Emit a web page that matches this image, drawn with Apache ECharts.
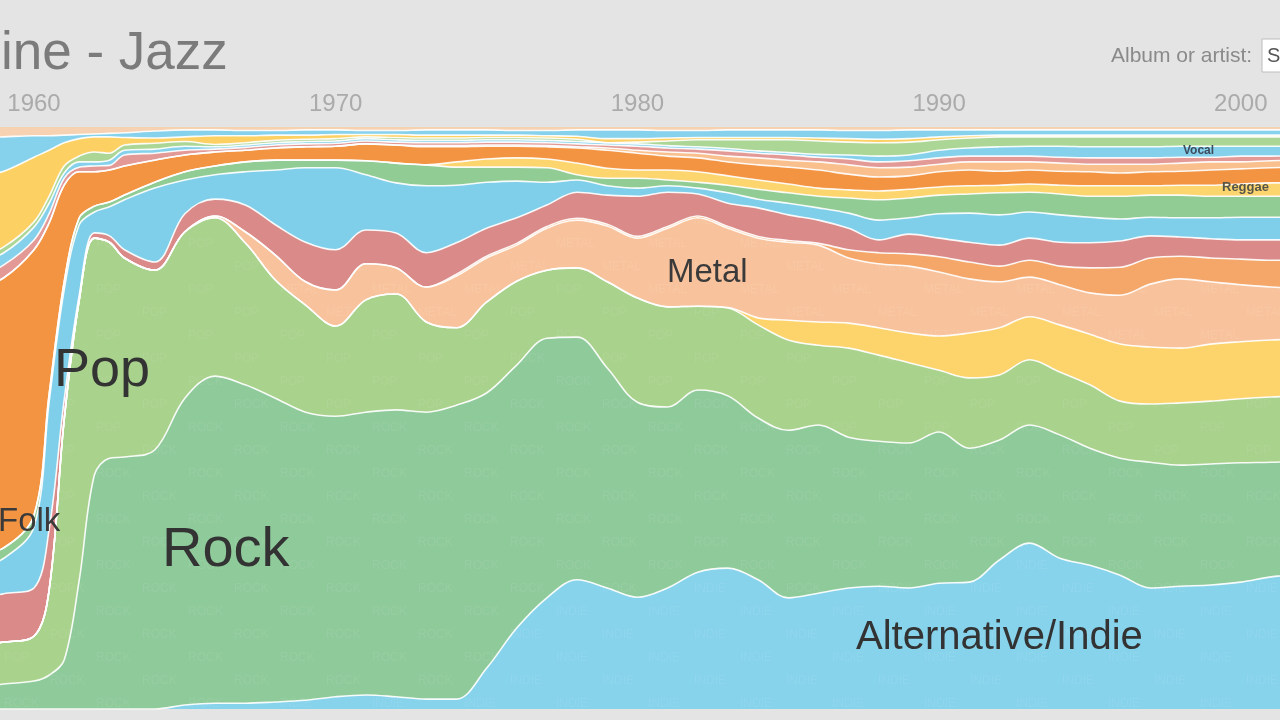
<!DOCTYPE html>
<html>
<head>
<meta charset="utf-8">
<title>Music Timeline - Jazz</title>
<script src="https://cdn.jsdelivr.net/npm/echarts@6/dist/echarts.min.js"></script>
<style>
  html, body { margin: 0; padding: 0; background: #e4e4e4; }
  #chart { width: 1280px; height: 720px; }
</style>
</head>
<body>
<div id="chart"></div>
<script>
// sample years (half years where the early 60s change quickly)
var years = [1958, 1959, 1960, 1960.5, 1961, 1961.5, 1962, 1962.5, 1963, 1964,
  1965, 1966, 1967, 1968, 1969, 1970, 1971, 1972, 1973, 1974,
  1975, 1976, 1977, 1978, 1979, 1980, 1981, 1982, 1983, 1984,
  1985, 1986, 1987, 1988, 1989, 1990, 1991, 1992, 1993, 1994,
  1995, 1996, 1997, 1998, 1999, 2000, 2001, 2002];
var yearTicks = [1960, 1970, 1980, 1990, 2000];

// top edge of each band, in % of all listening (bands stacked bottom -> top)
var altIndie = [0,0,0,0,0,0,0,0,0,0, 0.7,1.0,1.0,1.2,1.5,2.1,2.4,2.1,1.7,1.7,
  7.0,13.9,19.1,22.2,20.8,19.2,20.8,23.5,24.2,22.2, 19.1,19.9,20.8,21.1,20.8,21.6,21.8,25.6,28.5,25.9,
  24.7,23.0,20.8,21.1,21.3,21.8,22.7,23.2];
var rock = [3.5,4.3,4.8,5.8,8.4,22.2,40.2,43.1,43.3,44.5, 53.4,57.2,55.7,53.4,51.0,50.3,51.0,51.4,51.0,52.2,
  54.3,59.1,63.7,63.9,58.6,52.7,51.9,54.8,53.8,50.0, 47.9,48.8,46.7,46.0,45.7,47.6,44.8,46.2,48.8,47.1,
  44.8,43.1,42.4,41.9,42.1,42.3,42.4,42.6];
var pop = [11.0,11.5,12.5,20.4,49.7,70.3,80.9,80.2,77.5,75.4, 82.0,84.4,80.1,73.7,69.4,65.8,70.3,71.3,66.5,65.5,
  69.9,73.5,75.4,75.8,73.4,70.6,69.1,69.2,68.9,66.0, 63.4,62.5,62.0,60.8,59.5,58.2,56.9,57.4,60.0,57.9,
  55.7,52.9,52.4,52.6,52.9,53.3,53.6,53.8];
var hipHop = [11.0,11.5,12.5,20.4,49.7,70.3,80.9,80.2,77.5,75.4, 82.0,84.4,80.1,73.7,69.4,65.8,70.3,71.3,66.5,65.5,
  69.9,73.5,75.4,75.8,73.4,70.6,69.1,69.2,69.0,67.2, 66.8,66.5,66.3,65.5,64.6,64.1,64.6,65.5,67.4,66.0,
  64.4,62.7,62.2,62.0,62.7,63.1,63.4,63.6];
var metal = [11.0,11.5,12.5,20.4,49.7,70.3,80.9,80.2,77.5,75.4, 82.0,84.7,82.0,78.0,73.4,72.0,76.5,75.8,72.5,74.4,
  77.5,79.7,82.6,84.0,83.0,80.9,82.6,84.4,82.6,80.9, 80.2,79.7,77.5,76.5,76.1,75.1,73.9,73.4,74.2,72.9,
  71.5,71.1,73.0,73.9,73.4,72.9,72.5,72.3];
var electronica = [11.0,11.5,12.5,20.4,49.7,70.3,80.9,80.2,77.5,75.4, 82.0,84.7,82.0,78.0,73.4,72.0,76.5,75.8,72.5,74.7,
  77.8,80.0,82.9,84.3,83.3,81.2,82.9,84.7,82.9,81.2, 80.5,80.0,78.9,78.4,78.2,77.7,76.8,76.1,77.1,76.1,
  75.8,75.9,77.5,77.8,77.5,77.3,77.1,77.1];
var rnb = [18.7,19.8,20.8,30.8,53.1,71.1,81.8,81.3,78.9,76.8, 85.1,87.6,86.6,83.2,80.2,78.9,82.3,81.8,78.4,80.1,
  82.6,84.4,86.6,88.8,88.3,88.1,88.8,88.5,86.9,86.1, 84.9,84.0,82.6,80.6,81.6,80.9,80.2,79.7,80.9,80.2,
  80.1,80.4,81.3,81.1,80.8,80.6,80.6,80.6];
var folk = [23.9,25.9,31.3,52.7,72.0,83.2,85.4,86.3,87.5,89.5, 90.9,91.8,92.3,92.6,93.0,93.0,91.8,90.4,89.9,90.0,
  90.5,90.7,90.5,90.9,89.9,89.5,89.9,89.5,88.7,87.6, 86.9,86.1,85.2,84.0,84.4,85.1,85.2,84.9,85.4,84.9,
  84.5,84.2,84.5,84.4,84.4,84.5,84.5,84.5];
var country = [26.5,27.7,33.3,54.0,73.4,84.4,86.4,87.1,88.3,90.5, 92.3,93.3,94.0,94.3,94.3,94.3,94.2,93.8,93.5,93.1,
  93.1,93.1,93.0,91.8,91.2,91.2,90.9,90.5,90.0,89.3, 88.7,88.1,87.8,87.5,87.8,88.3,88.5,88.7,88.8,88.5,
  88.1,88.1,88.3,88.3,88.1,88.1,88.1,88.1];
var reggae = [26.5,27.7,33.3,54.0,73.4,84.4,86.4,87.1,88.3,90.5, 92.3,93.3,94.0,94.3,94.3,94.3,94.2,93.8,93.5,94.0,
  94.5,94.7,94.5,93.8,92.9,92.6,92.6,92.3,91.6,90.9, 90.2,89.5,89.2,89.0,89.3,89.7,89.9,90.0,90.2,90.0,
  89.9,89.9,89.9,90.0,90.0,90.2,90.4,90.4];
var jazz = [72.0,74.1,78.9,83.5,90.0,92.3,92.3,92.6,93.3,94.3, 95.2,95.7,96.0,96.4,96.6,96.7,97.1,96.9,96.6,96.6,
  96.7,96.7,96.6,96.4,96.0,95.5,95.0,94.7,94.0,93.5, 93.1,92.6,91.9,91.4,91.6,92.3,92.6,92.4,92.6,92.4,
  92.3,92.1,92.3,92.4,92.6,92.8,93.0,93.1];
var latin = [72.0,74.1,78.9,83.5,90.0,92.3,92.3,92.6,93.3,94.3, 95.2,95.7,96.0,96.4,96.6,96.7,97.1,96.9,96.8,96.8,
  96.9,96.9,96.8,96.6,96.4,96.0,95.7,95.5,95.0,94.7, 94.3,94.0,93.5,93.0,93.1,93.6,94.0,94.0,94.0,93.8,
  93.6,93.6,93.6,93.8,94.0,94.0,94.2,94.3];
var blues = [73.7,76.3,80.6,85.1,91.2,93.1,93.3,93.4,95.2,95.5, 96.0,96.2,96.5,96.9,97.1,97.2,97.6,97.4,97.3,97.3,
  97.4,97.4,97.3,97.1,96.9,96.7,96.4,96.2,95.9,95.5, 95.2,94.8,94.5,94.0,94.2,94.7,95.0,95.0,95.0,94.8,
  94.7,94.7,94.7,94.8,94.8,95.0,95.0,95.2];
var vocal = [76.3,78.4,82.8,86.9,92.1,94.0,94.0,94.3,96.0,96.2, 96.7,96.6,96.9,97.3,97.5,97.6,98.0,97.8,97.7,97.7,
  97.8,97.8,97.7,97.5,97.3,97.1,96.8,96.6,96.3,95.9, 95.6,95.3,95.2,95.0,95.2,96.0,96.4,96.6,96.7,96.7,
  96.6,96.6,96.6,96.7,96.7,96.7,96.7,96.7];
var world = [77.1,79.4,83.7,88.1,93.3,95.0,95.7,95.5,96.9,97.2, 97.5,97.0,97.3,97.7,97.9,98.0,98.3,98.2,98.1,98.1,
  98.2,98.2,98.1,97.9,97.3,97.4,97.6,97.8,97.8,97.8, 97.8,97.6,97.4,97.3,97.4,97.8,98.1,98.3,98.3,98.3,
  98.3,98.3,98.3,98.3,98.3,98.3,98.3,98.3];
var easyListening = [91.2,92.4,94.8,96.0,97.3,98.0,98.3,98.3,98.2,98.1, 98.3,98.5,98.5,98.6,98.6,98.7,98.7,98.7,98.6,98.6,
  98.6,98.6,98.5,98.4,98.0,98.0,98.1,98.2,98.2,98.2, 98.2,98.1,98.0,97.9,98.0,98.3,98.5,98.6,98.6,98.6,
  98.6,98.6,98.6,98.6,98.6,98.6,98.6,98.6];
var classical = [98.1,98.3,98.5,98.5,98.6,98.7,98.8,98.9,99.0,99.3, 99.5,99.5,99.4,99.4,99.5,99.5,99.4,99.4,99.5,99.5,
  99.5,99.4,99.4,99.5,99.5,99.5,99.4,99.4,99.5,99.5, 99.5,99.5,99.4,99.4,99.5,99.5,99.5,99.5,99.5,99.5,
  99.5,99.5,99.5,99.5,99.5,99.5,99.5,99.5];

// faint repeated genre word, like the original's band texture
function tile(base, word) {
    var c = document.createElement('canvas');
    c.width = 92; c.height = 46;
    var g = c.getContext('2d');
    g.fillStyle = base;
    g.fillRect(0, 0, 92, 46);
    g.fillStyle = 'rgba(255,255,255,0.07)';
    g.font = '12px "Liberation Sans", Arial, sans-serif';
    g.fillText(word, 4, 17);
    g.fillText(word, 50, 40);
    return { image: c, repeat: 'repeat' };
}

// drawn top band first, so each lower band paints over the one above
var bands = [
    ['Classical', classical, '#86d1ec'],
    ['Easy Listening', easyListening, '#fdd063'],
    ['World', world, '#abd696'],
    ['Vocal', vocal, '#85d1ec'],
    ['Blues', blues, '#e39a96'],
    ['Latin', latin, '#f9bf8c'],
    ['Jazz', jazz, '#f39443'],
    ['Reggae', reggae, '#fdd56e'],
    ['Country', country, '#92cc95'],
    ['Folk', folk, '#80cfea'],
    ['R&B', rnb, '#d98a89'],
    ['Electronica/Dance', electronica, '#f5a669'],
    ['Metal', metal, tile('#f8c39c', 'METAL')],
    ['Hip Hop', hipHop, '#fdd46c'],
    ['Pop', pop, tile('#a9d28c', 'POP')],
    ['Rock', rock, tile('#8fca9b', 'ROCK')],
    ['Alternative/Indie', altIndie, tile('#87d3ec', 'INDIE')]
];

var series = bands.map(function (b) {
    return {
        name: b[0],
        type: 'line',
        smooth: 0.35,
        symbol: 'none',
        clip: true,
        silent: true,
        emphasis: { disabled: true },
        lineStyle: { color: 'rgba(255,255,255,0.92)', width: 1.6 },
        areaStyle: { color: b[2], opacity: 1 },
        data: years.map(function (y, i) { return [y, b[1][i]]; })
    };
});

var myChart = echarts.init(document.getElementById('chart'), null, { width: 1280, height: 720 });

var labelFont = '"Liberation Sans", Arial, Helvetica, sans-serif';
function label(text, left, top, font, fill) {
    return { type: 'text', left: left, top: top, z: 100, silent: true, style: { text: text, font: font, fill: fill } };
}
var option = {
    backgroundColor: '#e4e4e4',
    animation: false,
    grid: {
        left: 0, right: 0, top: 127, bottom: 11,
        show: true, backgroundColor: '#f7d2b2', borderWidth: 0
    },
    xAxis: {
        type: 'value',
        position: 'top',
        min: 1958.873,
        max: 2001.3,
        splitLine: { show: false },
        axisLine: { show: false },
        axisTick: { show: false },
        axisLabel: {
            customValues: yearTicks,
            formatter: function (v) { return String(v); },
            color: '#ababab',
            fontSize: 24,
            fontFamily: labelFont,
            margin: 11
        }
    },
    yAxis: { type: 'value', min: 0, max: 100, show: false },
    series: series,
    graphic: [
        label('ine - Jazz', 1, 28, '53px ' + labelFont, '#7b7b7b'),
        label('Album or artist:', 1111, 46, '21px ' + labelFont, '#8a8a8a'),
        { type: 'rect', z: 100, silent: true, shape: { x: 1262, y: 39, width: 30, height: 33 }, style: { fill: '#ffffff', stroke: '#bdbdbd', lineWidth: 1 } },
        label('S', 1267, 46, '20px ' + labelFont, '#555'),
        label('Pop', 54, 344, '54px ' + labelFont, '#333'),
        label('Rock', 162, 523, '56px ' + labelFont, '#333'),
        label('Metal', 667, 256, '33px ' + labelFont, '#3a3a3a'),
        label('Folk', -2, 505, '33px ' + labelFont, '#3a3a3a'),
        label('Alternative/Indie', 856, 618, '40px ' + labelFont, '#333'),
        label('Vocal', 1183, 145, 'bold 12px ' + labelFont, '#3d4c5c'),
        label('Reggae', 1222, 181, 'bold 13px ' + labelFont, '#55554a')
    ]
};

if (option)
    myChart.setOption(option);
</script>
</body>
</html>
